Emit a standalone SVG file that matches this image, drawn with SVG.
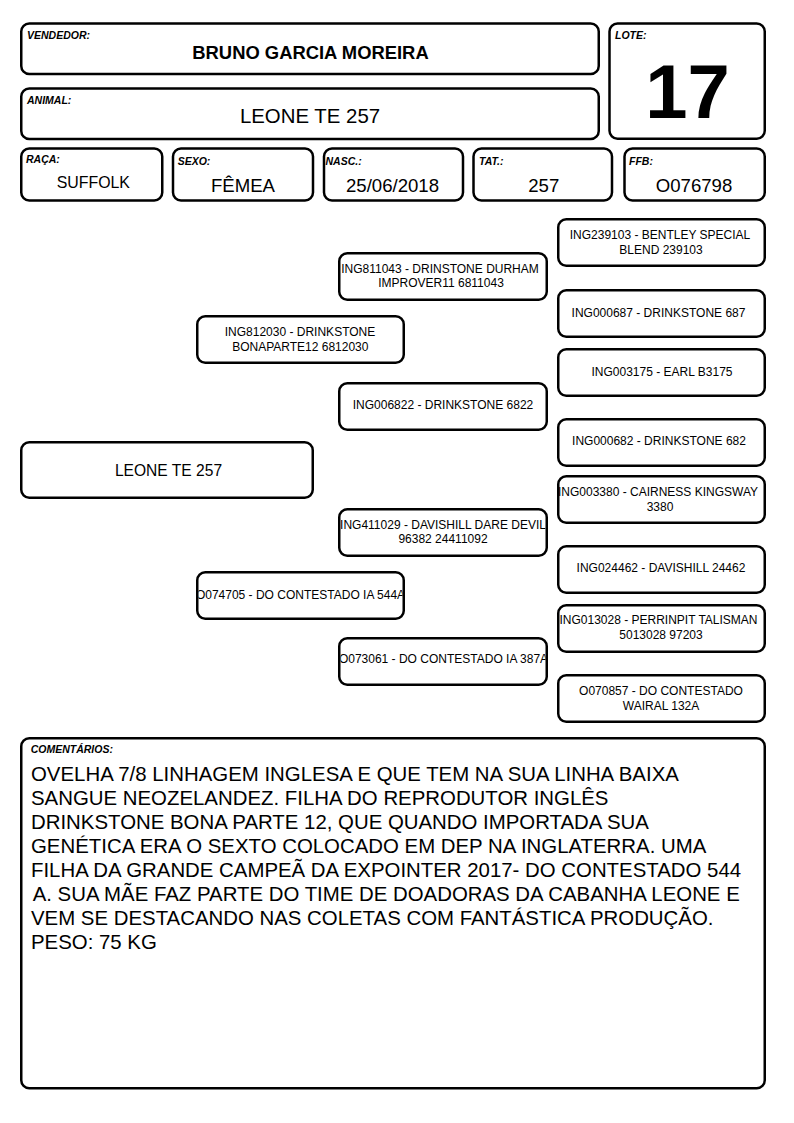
<svg xmlns="http://www.w3.org/2000/svg" width="794" height="1123" viewBox="0 0 794 1123">
<style>
.b{fill:#fff;stroke:#000;stroke-width:2.5}
.lbl{font-family:"Liberation Sans",Arial,sans-serif;font-weight:bold;font-style:italic;font-size:10.5px;fill:#000}
.val{font-family:"Liberation Sans",Arial,sans-serif;font-size:18.6px;fill:#000;text-anchor:middle}
.p{font-family:"Liberation Sans",Arial,sans-serif;font-size:12px;fill:#000;text-anchor:middle}
.c{font-family:"Liberation Sans",Arial,sans-serif;font-size:20.4px;fill:#000}
</style>
<defs>
<clipPath id="cg2a"><rect x="340.5" y="253" width="205" height="46"/></clipPath>
<clipPath id="cg2c"><rect x="340.5" y="509" width="205" height="46"/></clipPath>
<clipPath id="cg2d"><rect x="340.5" y="638" width="205" height="46"/></clipPath>
<clipPath id="cg1b"><rect x="198.5" y="572" width="204" height="46"/></clipPath>
</defs>
<rect width="794" height="1123" fill="#fff"/>

<g id="vendedor">
<rect class="b" x="21.25" y="23.5" width="577.5" height="50.5" rx="8"/>
<text class="lbl" x="27" y="39">VENDEDOR:</text>
<text x="310.5" y="58.5" font-family="Liberation Sans, Arial, sans-serif" font-weight="bold" font-size="18.4" text-anchor="middle">BRUNO GARCIA MOREIRA</text>
</g>
<g id="lote">
<rect class="b" x="609.5" y="23.5" width="155.25" height="115.25" rx="8"/>
<text class="lbl" x="615" y="38.5">LOTE:</text>
<text x="687.5" y="118" font-family="Liberation Sans, Arial, sans-serif" font-weight="bold" font-size="76" text-anchor="middle">17</text>
</g>
<g id="animal">
<rect class="b" x="21.25" y="88.5" width="577.5" height="50.5" rx="8"/>
<text class="lbl" x="27" y="103.5">ANIMAL:</text>
<text x="310" y="122.7" font-family="Liberation Sans, Arial, sans-serif" font-size="20.4" text-anchor="middle">LEONE TE 257</text>
</g>
<g id="raca">
<rect class="b" x="21.25" y="148.5" width="141" height="52" rx="8"/>
<text class="lbl" x="26" y="163">RAÇA:</text>
<text class="val" x="93.3" y="187.7" style="font-size:15.9px">SUFFOLK</text>
</g>
<g id="sexo">
<rect class="b" x="173" y="148.5" width="140" height="52" rx="8"/>
<text class="lbl" x="177.7" y="165">SEXO:</text>
<text class="val" x="243" y="192.3">FÊMEA</text>
</g>
<g id="nasc">
<rect class="b" x="324" y="148.5" width="139" height="52" rx="8"/>
<text class="lbl" x="325.5" y="165">NASC.:</text>
<text class="val" x="392.5" y="192.3">25/06/2018</text>
</g>
<g id="tat">
<rect class="b" x="473.5" y="148.5" width="138.5" height="52" rx="8"/>
<text class="lbl" x="479" y="165">TAT.:</text>
<text class="val" x="543.8" y="192.3">257</text>
</g>
<g id="ffb">
<rect class="b" x="624.5" y="148.5" width="140.25" height="52" rx="8"/>
<text class="lbl" x="629" y="165">FFB:</text>
<text class="val" x="694" y="192.3">O076798</text>
</g>

<g id="connectors"></g>

<g id="ped-animal">
<rect class="b" x="21.25" y="442.25" width="291.5" height="55.5" rx="8"/>
<text class="p" x="168.5" y="476" style="font-size:15.6px">LEONE TE 257</text>
</g>

<g id="ped-sire">
<rect class="b" x="197.25" y="316.25" width="206.5" height="46.5" rx="8"/>
<text class="p" x="300" y="336">ING812030 - DRINKSTONE</text>
<text class="p" x="300.3" y="351">BONAPARTE12 6812030</text>
</g>
<g id="ped-dam">
<rect class="b" x="197.25" y="572.25" width="206.5" height="46.5" rx="8"/>
<text class="p" x="300.5" y="599" clip-path="url(#cg1b)">O074705 - DO CONTESTADO IA 544A</text>
</g>

<g id="ped-ss">
<rect class="b" x="339.25" y="253.25" width="207.5" height="46.5" rx="8"/>
<text class="p" x="440" y="272.5" clip-path="url(#cg2a)">ING811043 - DRINSTONE DURHAM</text>
<text class="p" x="441" y="287">IMPROVER11 6811043</text>
</g>
<g id="ped-sd">
<rect class="b" x="339.25" y="383.25" width="207.5" height="46.5" rx="8"/>
<text class="p" x="443" y="409">ING006822 - DRINKSTONE 6822</text>
</g>
<g id="ped-ds">
<rect class="b" x="339.25" y="509.25" width="207.5" height="46.5" rx="8"/>
<text class="p" x="443" y="529.3" clip-path="url(#cg2c)">ING411029 - DAVISHILL DARE DEVIL</text>
<text class="p" x="443" y="543.3">96382 24411092</text>
</g>
<g id="ped-dd">
<rect class="b" x="339.25" y="638.25" width="207.5" height="46.5" rx="8"/>
<text class="p" x="443.5" y="663.3" clip-path="url(#cg2d)">O073061 - DO CONTESTADO IA 387A</text>
</g>

<g id="ped-sss">
<rect class="b" x="558.25" y="219.25" width="206.5" height="46.5" rx="8"/>
<text class="p" x="660" y="238.5">ING239103 - BENTLEY SPECIAL</text>
<text class="p" x="661" y="253.5">BLEND 239103</text>
</g>
<g id="ped-ssd">
<rect class="b" x="558.25" y="290.25" width="206.5" height="46.5" rx="8"/>
<text class="p" x="658.5" y="316.5">ING000687 - DRINKSTONE 687</text>
</g>
<g id="ped-sds">
<rect class="b" x="558.25" y="349.25" width="206.5" height="46.5" rx="8"/>
<text class="p" x="662" y="375.5">ING003175 - EARL B3175</text>
</g>
<g id="ped-sdd">
<rect class="b" x="558.25" y="419.25" width="206.5" height="46.5" rx="8"/>
<text class="p" x="659" y="444.5">ING000682 - DRINKSTONE 682</text>
</g>
<g id="ped-dss">
<rect class="b" x="558.25" y="476.25" width="206.5" height="46.5" rx="8"/>
<text class="p" x="658" y="495.5">ING003380 - CAIRNESS KINGSWAY</text>
<text class="p" x="660" y="510.5">3380</text>
</g>
<g id="ped-dsd">
<rect class="b" x="558.25" y="546.25" width="206.5" height="46.5" rx="8"/>
<text class="p" x="661" y="571.5">ING024462 - DAVISHILL 24462</text>
</g>
<g id="ped-dds">
<rect class="b" x="558.25" y="605.25" width="206.5" height="46.5" rx="8"/>
<text class="p" x="658.5" y="623.5">ING013028 - PERRINPIT TALISMAN</text>
<text class="p" x="661" y="638.5">5013028 97203</text>
</g>
<g id="ped-ddd">
<rect class="b" x="558.25" y="675.25" width="206.5" height="46.5" rx="8"/>
<text class="p" x="661" y="694.5">O070857 - DO CONTESTADO</text>
<text class="p" x="661" y="709.5">WAIRAL 132A</text>
</g>

<g id="comentarios">
<rect class="b" x="21.25" y="738.25" width="743.5" height="350" rx="8"/>
<text class="lbl" x="30.7" y="752.7">COMENTÁRIOS:</text>
<text class="c" x="31" y="781">OVELHA 7/8 LINHAGEM INGLESA E QUE TEM NA SUA LINHA BAIXA</text>
<text class="c" x="31" y="805">SANGUE NEOZELANDEZ. FILHA DO REPRODUTOR INGLÊS</text>
<text class="c" x="31" y="829">DRINKSTONE BONA PARTE 12, QUE QUANDO IMPORTADA SUA</text>
<text class="c" x="31" y="853">GENÉTICA ERA O SEXTO COLOCADO EM DEP NA INGLATERRA. UMA</text>
<text class="c" x="31" y="877">FILHA DA GRANDE CAMPEÃ DA EXPOINTER 2017- DO CONTESTADO 544</text>
<text class="c" x="32.7" y="901">A. SUA MÃE FAZ PARTE DO TIME DE DOADORAS DA CABANHA LEONE E</text>
<text class="c" x="31" y="925">VEM SE DESTACANDO NAS COLETAS COM FANTÁSTICA PRODUÇÃO.</text>
<text class="c" x="31" y="949">PESO: 75 KG</text>
</g>
</svg>
